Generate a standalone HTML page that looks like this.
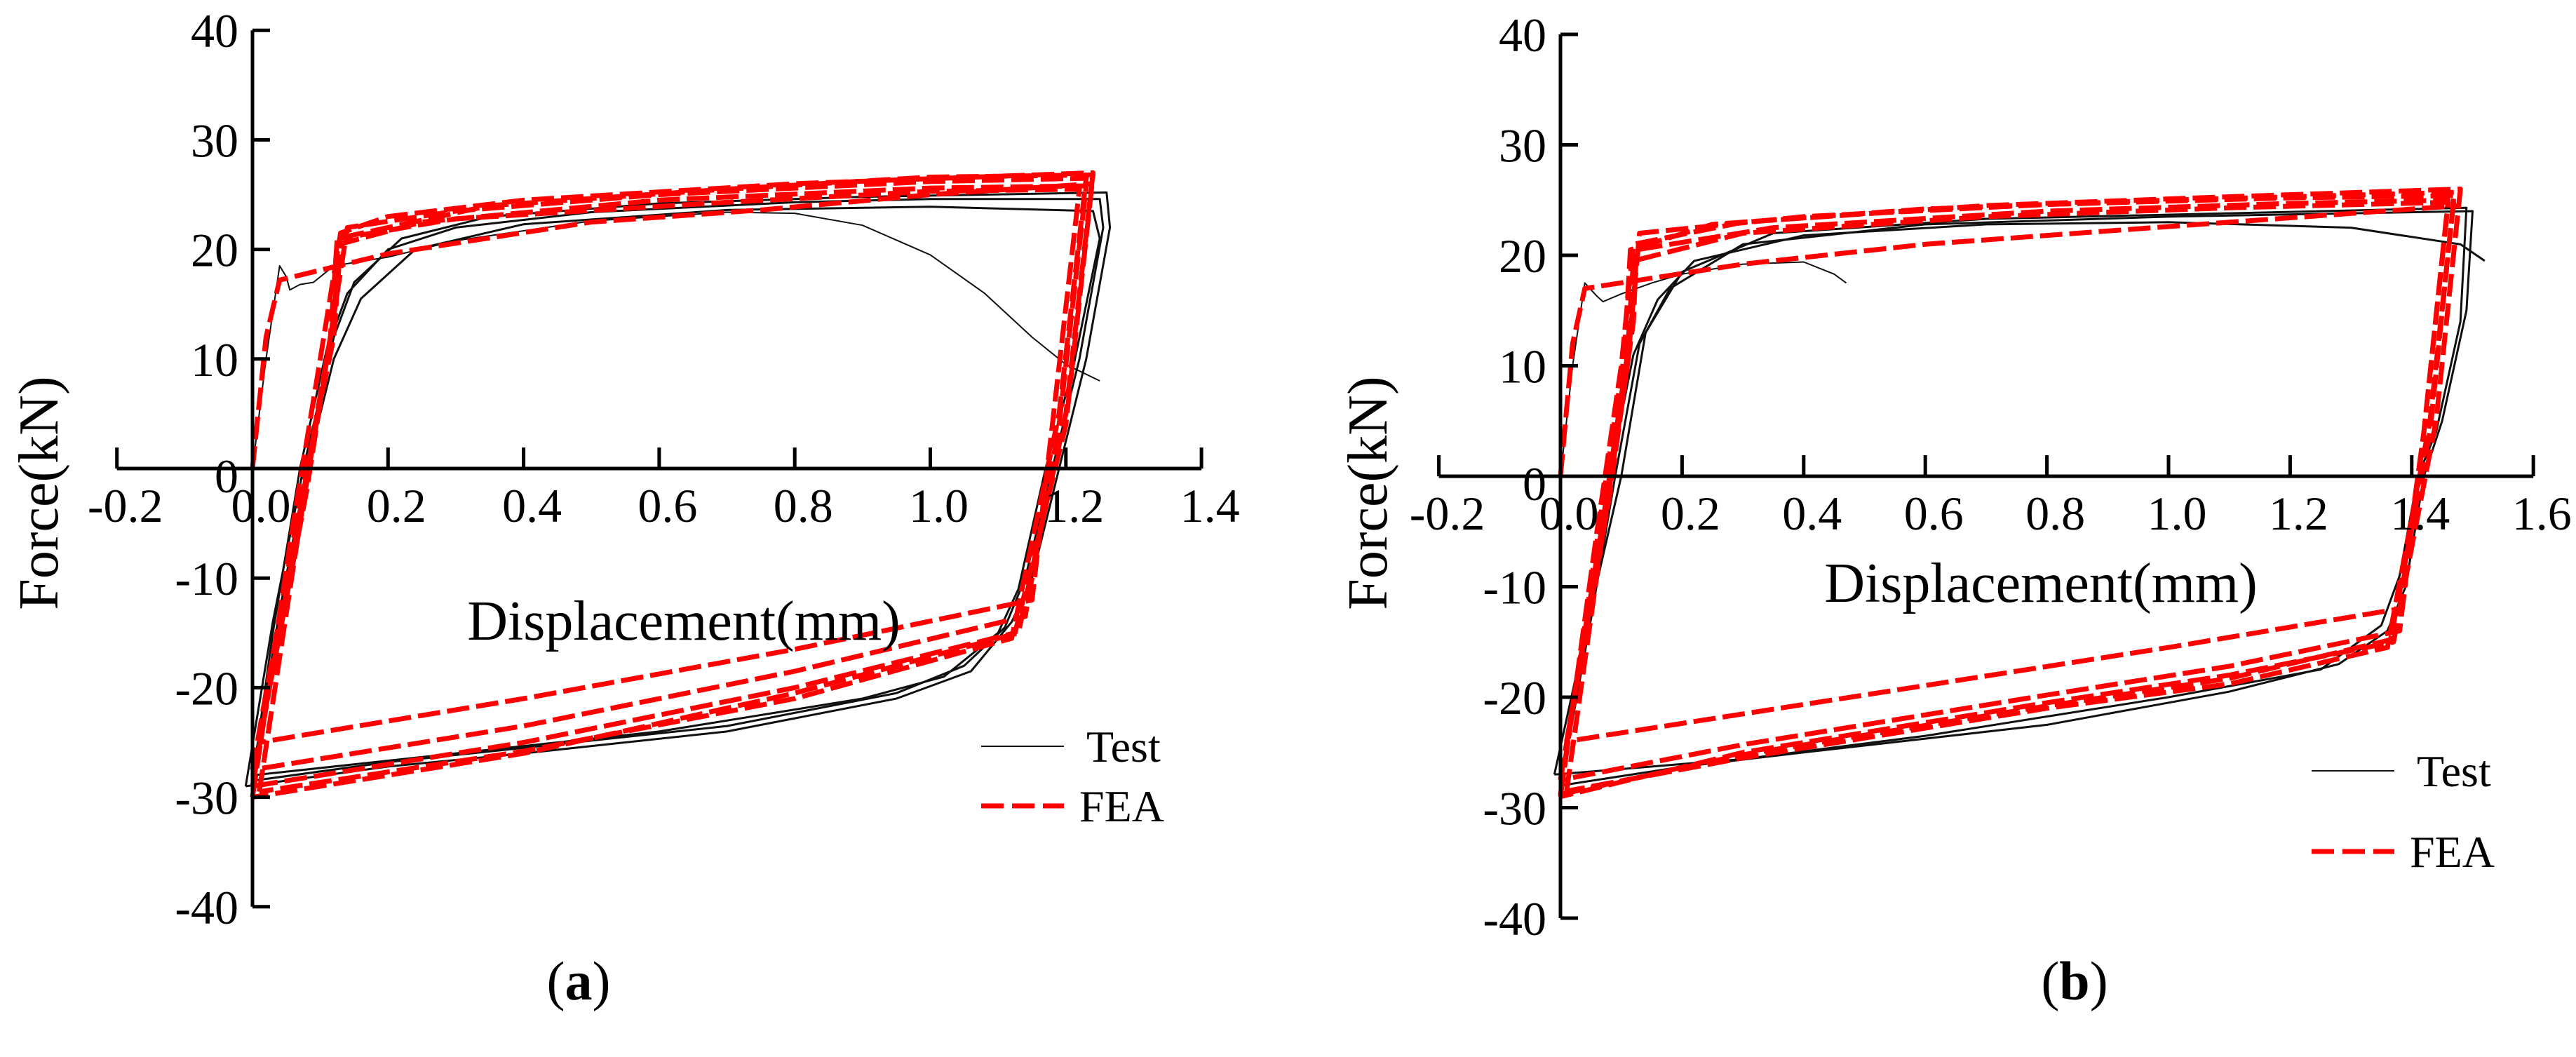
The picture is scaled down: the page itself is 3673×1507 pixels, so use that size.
<!DOCTYPE html>
<html><head><meta charset="utf-8"><style>
body{margin:0;background:#fff}
svg{display:block}
text{font-family:"Liberation Serif","Times New Roman","DejaVu Serif",serif;fill:#000}
</style></head><body>
<svg id="chart" width="3673" height="1507" viewBox="0 0 3673 1507">
<g id="pa"></g>
<g id="pb"></g>
</svg>
<script>
// ---------- data: panel a ----------
const aXTicks = [-0.2,0.0,0.2,0.4,0.6,0.8,1.0,1.2,1.4];
const aXTickLabels = ["-0.2","0.0","0.2","0.4","0.6","0.8","1.0","1.2","1.4"];
const aYTicks = [40,30,20,10,0,-10,-20,-30,-40];
const aYTickLabels = ["40","30","20","10","0","-10","-20","-30","-40"];
const aTestFirst = [[0,0],[0.02,10],[0.04,18.5],[0.05,17.5],[0.055,16.3],[0.07,16.8],[0.09,17],[0.12,18.5],[0.2,19.3],[0.3,20.8],[0.5,22.6],[0.7,23.4],[0.8,23.3],[0.9,22.2],[1.0,19.5],[1.08,16],[1.15,12],[1.2,9.5],[1.25,8]];
const aTestLoop1 = [[0.0,-28.5],[0.03,-15],[0.07,0],[0.11,11],[0.14,16],[0.2,20],[0.3,22],[0.5,23.4],[0.8,24.3],[1.0,24.6],[1.25,24.6],[1.255,22],[1.22,10],[1.18,0],[1.14,-10],[1.11,-14.5],[1.05,-18],[0.95,-20.5],[0.7,-23.5],[0.4,-25.5],[0.2,-26.8],[0.0,-28.5]];
const aTestLoop2 = [[-0.01,-29],[0.03,-14],[0.075,0],[0.12,12],[0.15,17],[0.22,21],[0.35,23],[0.6,24.2],[0.9,24.8],[1.26,25.2],[1.265,22],[1.23,10],[1.19,0],[1.15,-10],[1.12,-14],[1.06,-18.5],[0.95,-21],[0.7,-24],[0.4,-26],[0.2,-27.2],[-0.01,-29]];
const aTestLoop3 = [[0.0,-28],[0.04,-13],[0.08,0],[0.12,10],[0.16,15.5],[0.24,20],[0.4,22.3],[0.7,23.6],[1.0,23.9],[1.24,23.5],[1.25,21],[1.21,9],[1.17,0],[1.13,-11],[1.1,-15],[1.02,-19],[0.9,-21],[0.6,-24],[0.3,-26],[0.0,-28]];
const aFeaFirst = [[0,0],[0.02,12],[0.04,17.2],[0.2,19.6],[0.5,22.5],[0.75,23.6],[1.0,25],[1.24,26]];
const aFeaLoop1 = [[0.0,-30],[0.06,-5],[0.1,10],[0.13,21.5],[0.2,23],[0.4,24.5],[0.8,26],[1.24,27],[1.2,5],[1.13,-15],[0.8,-20.5],[0.4,-26],[0.0,-30]];
const aFeaLoop2 = [[0.01,-29.5],[0.07,-5],[0.11,10],[0.14,22],[0.3,23.5],[0.6,25],[1.0,26.2],[1.23,26.5],[1.19,5],[1.12,-15.5],[0.8,-21],[0.4,-25.8],[0.01,-29.5]];
const aFeaLoop3 = [[0.0,-27.5],[0.07,-3],[0.12,12],[0.13,20.5],[0.25,22.5],[0.6,24.5],[1.0,25.6],[1.23,25.8],[1.19,4],[1.14,-13.5],[0.8,-18.5],[0.4,-23.5],[0.0,-27.5]];
const aFeaLoop4 = [[0.01,-25],[0.08,-2],[0.12,14],[0.13,21],[0.3,22.8],[0.7,24.3],[1.0,25.3],[1.22,25.5],[1.18,4],[1.15,-12],[0.8,-16.5],[0.4,-21],[0.01,-25]];
const aFeaLoop5 = [[0.0,-29],[0.07,-4],[0.115,12],[0.125,21],[0.35,24],[0.7,25.5],[1.0,26.6],[1.24,26.8],[1.2,4],[1.125,-15],[0.8,-20],[0.4,-25],[0.0,-29]];
// ---------- data: panel b ----------
const bXTicks = [-0.2,0.0,0.2,0.4,0.6,0.8,1.0,1.2,1.4,1.6];
const bXTickLabels = ["-0.2","0.0","0.2","0.4","0.6","0.8","1.0","1.2","1.4","1.6"];
const bYTicks = [40,30,20,10,0,-10,-20,-30,-40];
const bYTickLabels = ["40","30","20","10","0","-10","-20","-30","-40"];
const bTestFirst = [[0,0],[0.02,10],[0.04,17.5],[0.06,16.3],[0.07,15.8],[0.1,16.5],[0.15,17.5],[0.2,18.3],[0.3,19.2],[0.4,19.4],[0.45,18.3],[0.47,17.5]];
const bTestLoop1 = [[0.0,-27.5],[0.04,-14],[0.08,0],[0.12,11],[0.16,16],[0.22,19.5],[0.4,21.8],[0.7,22.8],[1.0,23],[1.3,22.5],[1.48,21],[1.52,19.5]];
const bTestLoop2 = [[0.0,-28],[0.05,-13],[0.09,0],[0.13,12],[0.18,17],[0.3,21],[0.6,22.8],[1.0,23.5],[1.3,23.8],[1.5,24],[1.49,15],[1.45,5],[1.42,0],[1.39,-10],[1.36,-14],[1.28,-17],[1.1,-19.5],[0.8,-22.5],[0.4,-25],[0.2,-26.3],[0.0,-28]];
const bTestLoop3 = [[-0.01,-27],[0.05,-12],[0.1,0],[0.14,13],[0.2,18.5],[0.35,22],[0.7,23.3],[1.1,23.8],[1.49,24.3],[1.48,14],[1.44,4],[1.41,0],[1.38,-9],[1.35,-13.5],[1.25,-17.5],[1.0,-20],[0.6,-23.5],[0.3,-25.6],[-0.01,-27]];
const bFeaFirst = [[0,0],[0.02,12],[0.04,17],[0.3,19.2],[0.6,21],[1.0,22.6],[1.48,24.5]];
const bFeaLoop1 = [[0.0,-29],[0.06,-5],[0.1,10],[0.12,21],[0.3,23],[0.7,24.5],[1.1,25.3],[1.48,26],[1.44,5],[1.37,-15],[1.1,-18],[0.8,-20.5],[0.3,-25],[0.0,-29]];
const bFeaLoop2 = [[0.01,-28.5],[0.07,-5],[0.11,10],[0.13,22],[0.4,23.5],[0.8,24.6],[1.2,25.2],[1.47,25.4],[1.43,5],[1.36,-15.5],[1.1,-18.8],[0.8,-21],[0.3,-25.5],[0.01,-28.5]];
const bFeaLoop3 = [[0.0,-27.5],[0.07,-4],[0.11,11],[0.12,19.5],[0.3,22],[0.7,23.5],[1.1,24.3],[1.46,24.8],[1.42,4],[1.38,-14],[1.1,-17.2],[0.8,-19.8],[0.3,-24.3],[0.0,-27.5]];
const bFeaLoop4 = [[0.01,-24],[0.08,-2],[0.12,14],[0.125,20.5],[0.35,22.5],[0.8,24],[1.2,24.7],[1.46,25],[1.42,4],[1.38,-12],[1.0,-15.5],[0.5,-19.8],[0.01,-24]];
const bFeaLoop5 = [[0.0,-28.8],[0.065,-4],[0.105,11],[0.115,20.5],[0.25,22.8],[0.6,24.2],[1.0,25],[1.47,25.7],[1.43,4],[1.365,-14.8],[1.1,-18.3],[0.8,-20.8],[0.3,-25.2],[0.0,-28.8]];

const NS="http://www.w3.org/2000/svg";
function mk(tag, attrs, parent){const e=document.createElementNS(NS,tag);for(const k in attrs)e.setAttribute(k,attrs[k]);parent.appendChild(e);return e;}

function drawPanel(g, cfg){
  const sx = v => cfg.x0 + (v - 0) * cfg.pxPerX;
  const sy = v => cfg.y0 - v * cfg.pxPerY;
  const lineOf = pts => pts.map((p,i)=>(i?'L':'M')+sx(p[0]).toFixed(1)+','+sy(p[1]).toFixed(1)).join(' ');
  cfg.test.forEach((pts,i)=>{
    const p=mk('path',{d:lineOf(pts),fill:'none',stroke:'#111','stroke-width':i===0?2:3,'stroke-linejoin':'round'},g);
    
    
  });
  cfg.fea.forEach((pts,i)=>{
    const p=mk('path',{d:lineOf(pts),fill:'none',stroke:'#ff0000','stroke-width':7,'stroke-dasharray':'32,10','stroke-linejoin':'round'},g);
    
    
  });
  const xa=mk('line',{x1:sx(cfg.xTicks[0]),y1:sy(0),x2:sx(cfg.xTicks[cfg.xTicks.length-1]),y2:sy(0),stroke:'#000','stroke-width':5},g);
  
  
  const ya=mk('line',{x1:sx(0),y1:sy(40),x2:sx(0),y2:sy(-40),stroke:'#000','stroke-width':5},g);
  
  
  cfg.xTicks.forEach((v,i)=>{
    const t=mk('line',{x1:sx(v),y1:sy(0),x2:sx(v),y2:sy(0)-30,stroke:'#000','stroke-width':5},g);
    
    
    const l=mk('text',{x:sx(v)+12,y:sy(0)+76,'font-size':68,'text-anchor':'middle'},g);
    l.textContent=cfg.xLabels[i];
    
    
  });
  cfg.yTicks.forEach((v,i)=>{
    const t=mk('line',{x1:sx(0),y1:sy(v),x2:sx(0)+25,y2:sy(v),stroke:'#000','stroke-width':5},g);
    
    
    const l=mk('text',{x:sx(0)-20,y:sy(v)+(v===0?34:24),'font-size':68,'text-anchor':'end'},g);
    l.textContent=cfg.yLabels[i];
    
    
  });
  const xt=mk('text',{x:cfg.xTitleX,y:cfg.xTitleY,'font-size':80,'text-anchor':'middle'},g);
  xt.textContent='Displacement(mm)';
  
  
  const yt=mk('text',{x:0,y:0,'font-size':80,'text-anchor':'middle',transform:`translate(${cfg.yTitleX},703) rotate(-90)`},g);
  yt.textContent='Force(kN)';
  
  
  const l1=mk('line',{x1:cfg.legX,y1:cfg.legY1,x2:cfg.legX+118,y2:cfg.legY1,stroke:'#111','stroke-width':2},g);
  
  
  const t1=mk('text',{x:cfg.legX+150,y:cfg.legY1+22,'font-size':64},g);
  t1.textContent='Test';
  
  
  const l2=mk('line',{x1:cfg.legX,y1:cfg.legY2,x2:cfg.legX+118,y2:cfg.legY2,stroke:'#ff0000','stroke-width':7,'stroke-dasharray':'32,12'},g);
  
  
  const t2=mk('text',{x:cfg.legX+140,y:cfg.legY2+22,'font-size':64},g);
  t2.textContent='FEA';
  
  
  const cap=mk('text',{x:cfg.capX,y:1425,'font-size':78,'text-anchor':'middle'},g);
  cap.innerHTML='(<tspan font-weight="bold">'+cfg.cap+'</tspan>)';
  
  
}

drawPanel(document.getElementById('pa'),{x0:360,y0:668,pxPerX:966.5,pxPerY:15.62,
  xTicks:aXTicks,xLabels:aXTickLabels,yTicks:aYTicks,yLabels:aYTickLabels,
  test:[aTestFirst,aTestLoop1,aTestLoop2,aTestLoop3],fea:[aFeaFirst,aFeaLoop1,aFeaLoop2,aFeaLoop3,aFeaLoop4,aFeaLoop5],
  xTitleX:975,xTitleY:912,yTitleX:82,legX:1399,legY1:1064,legY2:1149,capX:825,cap:'a'});
drawPanel(document.getElementById('pb'),{x0:2225,y0:679,pxPerX:867,pxPerY:15.75,
  xTicks:bXTicks,xLabels:bXTickLabels,yTicks:bYTicks,yLabels:bYTickLabels,
  test:[bTestFirst,bTestLoop1,bTestLoop2,bTestLoop3],fea:[bFeaFirst,bFeaLoop1,bFeaLoop2,bFeaLoop3,bFeaLoop4,bFeaLoop5],
  xTitleX:2910,xTitleY:858,yTitleX:1977,legX:3296,legY1:1099,legY2:1214,capX:2958,cap:'b'});
</script>
</body></html>
